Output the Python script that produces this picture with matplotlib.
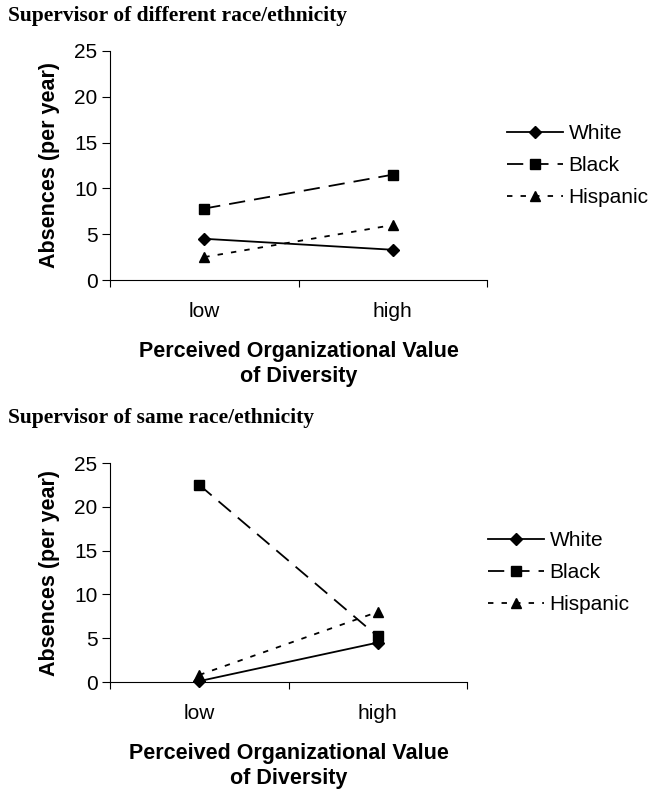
import matplotlib.pyplot as plt

# datos
niveles = ["low", "high"]
grupos = ["White", "Black", "Hispanic"]

# supervisor de distinta raza/etnia
dif_white = [4.5, 3.3]
dif_black = [7.8, 11.5]
dif_hisp = [2.5, 6.0]

# supervisor de la misma raza/etnia
igual_white = [0.1, 4.5]
igual_black = [22.5, 5.2]
igual_hisp = [0.8, 8.0]

titulos = ["Supervisor of different race/ethnicity",
           "Supervisor of same race/ethnicity"]
ylabel = "Absences (per year)"
xlabel = "Perceived Organizational Value\nof Diversity"
yticks = [0, 5, 10, 15, 20, 25]

plt.rcParams['font.family'] = ['Liberation Sans', 'DejaVu Sans']

W, H = 653, 790
fig = plt.figure(figsize=(W / 100, H / 100), dpi=100)

estilos = [dict(marker="D", ms=6, ls="-"),
           dict(marker="s", ms=7, dashes=(9, 5)),
           dict(marker="^", ms=7.5, dashes=(3, 4.5))]


def panel(rect, series, titulo, y_titulo, leg_x):
    # rect en pixeles: izquierda, arriba, derecha, abajo
    l, t, r, b = rect
    ax = fig.add_axes([l / W, 1 - b / H, (r - l) / W, (b - t) / H])
    xs = [0.5, 1.5]
    for nombre, vals, st in zip(grupos, series, estilos):
        ax.plot(xs, vals, color="black", lw=1.3, mfc="black", mec="black",
                label=nombre, clip_on=False, **st)
    ax.set_xlim(0, 2)
    ax.set_ylim(0, 25)
    ax.set_yticks(yticks)
    ax.set_xticks([0, 1, 2])
    ax.set_xticklabels([])
    ax.set_xticks(xs, minor=True)
    ax.set_xticklabels(niveles, minor=True)
    ax.tick_params(axis="x", which="major", length=5, direction="out")
    ax.tick_params(axis="x", which="minor", length=0, pad=16, labelsize=15)
    ax.tick_params(axis="y", length=6, pad=3, labelsize=15)
    for s in ["top", "right"]:
        ax.spines[s].set_visible(False)
    ax.set_ylabel(ylabel, fontsize=15.5, fontweight="bold", labelpad=10)
    ax.set_xlabel(xlabel, fontsize=15.5, fontweight="bold", labelpad=14,
                  linespacing=1.3)
    ax.legend(loc="center left", bbox_to_anchor=(leg_x, 0.5), frameon=False,
              fontsize=15, handlelength=2.7, handletextpad=0.25,
              labelspacing=0.62, borderpad=0, borderaxespad=0)
    fig.text(8 / W, 1 - y_titulo / H, titulo, family="Liberation Serif",
             fontweight="bold", fontsize=15.5, va="top", ha="left")
    return ax


panel((110, 51, 487, 280), [dif_white, dif_black, dif_hisp], titulos[0], 6, 1.053)
panel((110, 463, 467, 682), [igual_white, igual_black, igual_hisp], titulos[1], 408, 1.059)

plt.savefig("out.png", dpi=100)
